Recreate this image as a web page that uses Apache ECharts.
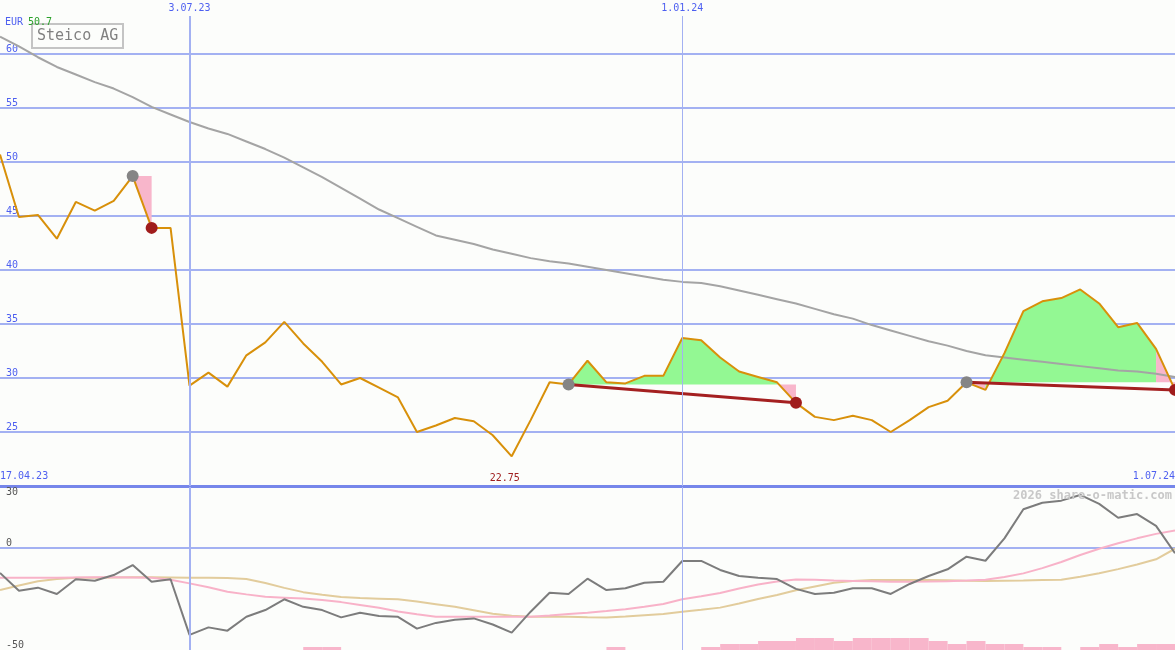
<!DOCTYPE html>
<html>
<head>
<meta charset="utf-8">
<script src="https://cdn.jsdelivr.net/npm/echarts@6/dist/echarts.min.js"></script>
<style>
html,body{margin:0;padding:0;background:#fcfdfb;}
#c{width:1175px;height:650px;}
</style>
</head>
<body>
<div id="c"></div>
<script>
// ---- data (weekly points, index 0..62) ----
const title = 'Steico AG';
const currency = 'EUR';
const edgeDateLabels = ['17.04.23', '1.07.24'];
const markerIdx = [10, 36];
const markerLabels = ['3.07.23', '1.01.24'];
const watermark = '2026 share-o-matic.com';

const price = [50.7,44.9,45.1,42.9,46.3,45.5,46.4,48.7,43.9,43.9,29.3,30.5,29.2,32.1,33.3,35.2,33.2,31.5,29.4,30.0,29.1,28.2,25.0,25.6,26.3,26.0,24.7,22.75,26.1,29.6,29.4,31.6,29.6,29.5,30.2,30.2,33.7,33.5,31.9,30.6,30.1,29.6,27.7,26.4,26.1,26.5,26.1,25.0,26.1,27.3,27.9,29.6,28.9,32.3,36.2,37.1,37.4,38.2,36.9,34.7,35.1,32.7,28.9];
const movingAvg = [61.6,60.7,59.7,58.8,58.1,57.4,56.8,56.0,55.1,54.4,53.7,53.1,52.6,51.9,51.2,50.4,49.5,48.6,47.6,46.6,45.6,44.8,44.0,43.2,42.8,42.4,41.9,41.5,41.1,40.8,40.6,40.3,40.0,39.7,39.4,39.1,38.9,38.8,38.5,38.1,37.7,37.3,36.9,36.4,35.9,35.5,34.9,34.4,33.9,33.4,33.0,32.5,32.1,31.9,31.7,31.5,31.3,31.1,30.9,30.7,30.6,30.4,30.1];
const momentum = [-12.2,-20.9,-19.4,-22.5,-15.3,-16.0,-13.2,-8.3,-16.5,-15.3,-42.6,-38.9,-40.5,-33.7,-30.4,-25.1,-28.8,-30.4,-34.0,-31.7,-33.3,-33.7,-39.5,-36.7,-35.1,-34.5,-37.5,-41.5,-31.2,-21.9,-22.5,-15.0,-20.6,-19.7,-17.0,-16.5,-6.3,-6.3,-10.7,-13.7,-14.5,-15.2,-20.0,-22.5,-21.9,-19.7,-19.7,-22.5,-17.6,-13.7,-10.4,-4.2,-6.2,4.8,19.1,22.3,23.3,26.1,21.7,14.9,16.7,10.9,-2.5];
const signalPink = [-14.5,-14.5,-14.5,-14.5,-14.4,-14.3,-14.3,-14.4,-14.5,-15.5,-17.3,-19.2,-21.4,-22.7,-23.9,-24.3,-24.7,-25.5,-26.5,-27.9,-29.3,-31.1,-32.5,-33.7,-33.7,-33.7,-33.7,-33.7,-33.7,-33.1,-32.3,-31.7,-30.9,-30.0,-28.8,-27.4,-25.1,-23.6,-22.0,-19.8,-17.9,-16.4,-15.4,-15.5,-15.9,-16.1,-16.3,-16.5,-16.5,-16.4,-16.2,-15.9,-15.5,-14.2,-12.4,-9.8,-6.8,-3.4,-0.3,2.4,4.8,7.0,8.6];
const signalTan = [-20.6,-18.3,-16.3,-15.2,-14.6,-14.5,-14.4,-14.3,-14.3,-14.4,-14.5,-14.6,-14.7,-15.2,-17.1,-19.5,-21.6,-22.9,-24.0,-24.5,-24.8,-25.1,-26.2,-27.5,-28.8,-30.5,-32.2,-33.2,-33.7,-33.7,-33.7,-33.9,-34.0,-33.5,-32.9,-32.3,-31.2,-30.3,-29.2,-27.2,-25.0,-23.0,-20.7,-18.8,-17.0,-16.1,-15.6,-15.6,-15.6,-15.6,-15.8,-16.0,-16.1,-16.0,-15.9,-15.7,-15.5,-14.1,-12.3,-10.3,-8.0,-5.5,-0.3];
const histLevels = [0,0,0,0,0,0,0,0,0,0,0,0,0,0,0,0,1,1,0,0,0,0,0,0,0,0,0,0,0,0,0,0,1,0,0,0,0,1,2,2,3,3,4,4,3,4,4,4,4,3,2,3,2,2,1,1,0,1,2,1,2,2,0];
// signal segments: [start index, end index, anchor index, kind]
const fillRegions = [[7,8,7,'down'],[30,41,30,'up'],[41,42,30,'down'],[51,52,51,'down'],[52,61,51,'up'],[61,62,51,'down']];
const trendPairs = [[30,42],[51,62]];
const startMarks = [7,30,51];
const endMarks = [8,42,62];

// ---- styles ----
const MONO = '"DejaVu Sans Mono", monospace';
const GRID_BLUE = '#a3b1f2';
const SEP_BLUE = '#7686ea';
const LABEL_BLUE = '#4d5ff0';
const GREEN_FILL = '#93f893';
const PINK_FILL = '#f8b6cb';
const PRICE_COL = '#d8900a';
const N = price.length - 1;

const pair = arr => arr.map((v, i) => [i, v]);
const topPx = 16, topH = 470;
const topMax = 20 + topH / 10.8;

const chart = echarts.init(document.getElementById('c'), null, {renderer: 'canvas'});
chart.setOption({
  animation: false,
  backgroundColor: '#fcfdfb',
  title: [
    {
      text: '{a|' + currency + '} {b|' + price[0].toFixed(1) + '}',
      left: 5, top: 13, padding: 0,
      textStyle: { fontWeight: 'normal', rich: {
        a: {fontFamily: MONO, fontSize: 10, fontWeight: 'normal', color: LABEL_BLUE},
        b: {fontFamily: MONO, fontSize: 10, fontWeight: 'normal', color: '#2aa02a'}
      }}
    },
    {
      text: title, left: 32, top: 24, padding: [3, 5, 3, 5],
      borderColor: '#c4c4c4', borderWidth: 2, backgroundColor: '#fcfdfb',
      textStyle: {fontFamily: MONO, fontSize: 15, lineHeight: 18, fontWeight: 'normal', color: '#808080'}
    },
    {
      text: watermark, right: 3, top: 490, padding: 0,
      textStyle: {fontFamily: MONO, fontSize: 12, fontWeight: 'bold', color: '#c8c8c8'}
    }
  ],
  grid: [
    {left: 0, right: 0, top: topPx, height: topH, outerBoundsMode: 'none', containLabel: false},
    {left: 0, right: 0, top: 487, height: 163, outerBoundsMode: 'none', containLabel: false}
  ],
  xAxis: [
    {
      gridIndex: 0, type: 'value', min: 0, max: N, interval: N,
      axisLine: {show: true, onZero: false, lineStyle: {color: SEP_BLUE, width: 3}},
      axisTick: {show: false}, splitLine: {show: false},
      axisLabel: {
        inside: true, margin: 5, fontFamily: MONO, fontSize: 10, color: LABEL_BLUE,
        alignMinLabel: 'left', alignMaxLabel: 'right',
        formatter: v => (v === 0 ? edgeDateLabels[0] : (v === N ? edgeDateLabels[1] : ''))
      }
    },
    {
      gridIndex: 1, type: 'value', min: 0, max: N,
      axisLine: {show: false}, axisTick: {show: false}, splitLine: {show: false}, axisLabel: {show: false}
    }
  ],
  yAxis: [
    {
      gridIndex: 0, type: 'value', min: 20, max: topMax, interval: 5,
      axisLine: {show: false}, axisTick: {show: false},
      splitLine: {show: true, showMinLine: false, showMaxLine: false, lineStyle: {color: GRID_BLUE, width: 2}},
      axisLabel: {
        inside: true, margin: 6, showMinLabel: false, showMaxLabel: false,
        verticalAlign: 'bottom', fontFamily: MONO, fontSize: 10, color: LABEL_BLUE
      }
    },
    {
      gridIndex: 1, type: 'value', min: -50, max: 30, interval: 50,
      axisLine: {show: false}, axisTick: {show: false},
      splitLine: {show: true, showMinLine: false, showMaxLine: false, lineStyle: {color: GRID_BLUE, width: 2}},
      axisLabel: {
        inside: true, margin: 6, verticalAlign: 'bottom', verticalAlignMaxLabel: 'top',
        fontFamily: MONO, fontSize: 10, color: '#555555'
      }
    },
    {
      gridIndex: 1, type: 'value', min: 0, max: 163 / 3, show: false
    }
  ],
  series: [
    {
      type: 'custom', xAxisIndex: 0, yAxisIndex: 0, z: 1,
      data: fillRegions.map(r => [r[0], r[1]]),
      encode: {x: [0, 1]},
      renderItem: function (params, api) {
        const r = fillRegions[params.dataIndex];
        const lv = price[r[2]];
        const pts = [api.coord([r[0], lv]), api.coord([r[1], lv])];
        for (let k = r[1]; k >= r[0]; k--) pts.push(api.coord([k, price[k]]));
        return {type: 'polygon', shape: {points: pts}, style: {fill: r[3] === 'up' ? GREEN_FILL : PINK_FILL}};
      }
    },
    {
      type: 'line', xAxisIndex: 0, yAxisIndex: 0, z: 2, data: pair(movingAvg),
      symbol: 'none', lineStyle: {color: '#a4a4a4', width: 2}
    },
    {
      type: 'line', xAxisIndex: 0, yAxisIndex: 0, z: 3, data: pair(price),
      symbol: 'none', lineStyle: {color: PRICE_COL, width: 2},
      markLine: {
        silent: true, symbol: ['none', 'none'],
        data: markerIdx.map((x, k) => ({
          xAxis: x,
          lineStyle: {color: GRID_BLUE, width: k === 0 ? 2 : 1, type: 'solid'},
          label: {show: true, position: 'end', distance: 3, formatter: markerLabels[k],
                  fontFamily: MONO, fontSize: 10, color: LABEL_BLUE}
        }))
      },
      markPoint: {
        symbol: 'circle', symbolSize: 0,
        data: [{type: 'min'}],
        label: {show: true, position: 'inside', offset: [-7, 22], fontFamily: MONO, fontSize: 10,
                color: '#a02020', formatter: p => String(p.value)}
      }
    },
    ...trendPairs.map(tp => ({
      type: 'line', xAxisIndex: 0, yAxisIndex: 0, z: 4,
      data: [[tp[0], price[tp[0]]], [tp[1], price[tp[1]]]],
      symbol: 'none', lineStyle: {color: '#a42020', width: 3}
    })),
    {
      type: 'scatter', xAxisIndex: 0, yAxisIndex: 0, z: 5,
      data: startMarks.map(i => [i, price[i]]), symbolSize: 12,
      itemStyle: {color: '#858585', opacity: 1}
    },
    {
      type: 'scatter', xAxisIndex: 0, yAxisIndex: 0, z: 5,
      data: endMarks.map(i => [i, price[i]]), symbolSize: 12,
      itemStyle: {color: '#a01c1c', opacity: 1}
    },
    {
      type: 'custom', xAxisIndex: 1, yAxisIndex: 2, z: 1,
      data: pair(histLevels),
      renderItem: function (params, api) {
        const i = api.value(0), h = api.value(1);
        if (!h) return null;
        const p0 = api.coord([i, 0]);
        const p1 = api.coord([i + 1, h]);
        return {type: 'rect', shape: {x: p0[0], y: p1[1], width: p1[0] - p0[0], height: p0[1] - p1[1]},
                style: {fill: PINK_FILL}};
      }
    },
    {
      type: 'line', xAxisIndex: 1, yAxisIndex: 1, z: 2, data: pair(signalTan),
      symbol: 'none', lineStyle: {color: '#e2cc9c', width: 2},
      markLine: {
        silent: true, symbol: ['none', 'none'], label: {show: false},
        data: markerIdx.map((x, k) => ({xAxis: x, lineStyle: {color: GRID_BLUE, width: k === 0 ? 2 : 1, type: 'solid'}}))
      }
    },
    {
      type: 'line', xAxisIndex: 1, yAxisIndex: 1, z: 3, data: pair(signalPink),
      symbol: 'none', lineStyle: {color: '#f8b2c8', width: 2}
    },
    {
      type: 'line', xAxisIndex: 1, yAxisIndex: 1, z: 4, data: pair(momentum),
      symbol: 'none', lineStyle: {color: '#7c7c7c', width: 2}
    }
  ]
});
</script>
</body>
</html>
